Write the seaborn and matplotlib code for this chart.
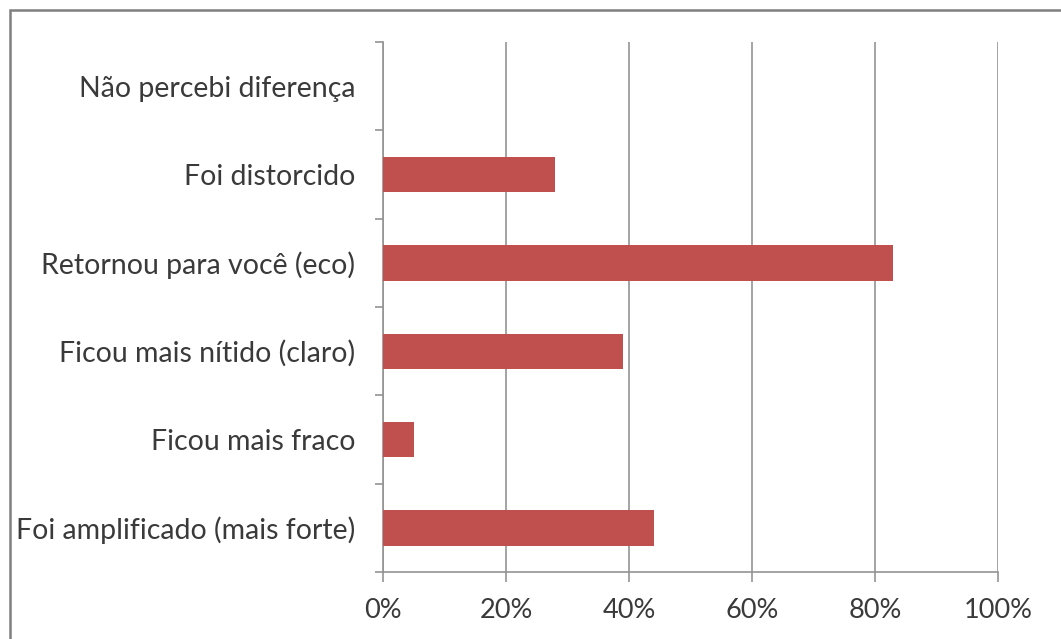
import matplotlib
matplotlib.use("Agg")
import matplotlib.pyplot as plt
from matplotlib.patches import Rectangle
from matplotlib.ticker import FixedLocator, PercentFormatter
import seaborn as sns
import pandas as pd

categories = [
    "Não percebi diferença",
    "Foi distorcido",
    "Retornou para você (eco)",
    "Ficou mais nítido (claro)",
    "Ficou mais fraco",
    "Foi amplificado (mais forte)",
]
percentages = [0, 28, 83, 39, 5, 44]
x_ticks = [0, 20, 40, 60, 80, 100]

bar_color = "#C0504D"
grid_color = "#939393"
text_color = "#3A3A3A"

sns.set_style("white")
plt.rcParams["font.family"] = ["Lato", "DejaVu Sans"]

df = pd.DataFrame({"categoria": categories, "pct": percentages})

fig = plt.figure(figsize=(10.61, 6.39), dpi=100)
ax = fig.add_axes([383 / 1061, 1 - 572 / 639, (998 - 383) / 1061, (572 - 42) / 639])

sns.barplot(data=df, x="pct", y="categoria", color=bar_color, saturation=1,
            width=0.4, linewidth=0, ax=ax, zorder=3)

ax.set_xlim(0, 100)
ax.set_ylim(len(categories) - 0.5, -0.5)
ax.xaxis.set_major_locator(FixedLocator(x_ticks))
ax.xaxis.set_major_formatter(PercentFormatter(decimals=0))
ax.set_xlabel("")
ax.set_ylabel("")

# vertical gridlines behind the bars
ax.grid(axis="x", color=grid_color, linewidth=1.2, zorder=0)
ax.grid(axis="y", visible=False)
ax.set_axisbelow(True)

for side in ("top", "right"):
    ax.spines[side].set_visible(False)
for side in ("left", "bottom"):
    ax.spines[side].set_color(grid_color)
    ax.spines[side].set_linewidth(1.2)

# category labels without ticks; tick marks at category boundaries
ax.tick_params(axis="y", which="major", length=0, pad=20, labelsize=20.5,
               labelcolor=text_color)
ax.yaxis.set_minor_locator(FixedLocator([i - 0.5 for i in range(len(categories) + 1)]))
ax.tick_params(axis="y", which="minor", left=True, length=6, width=1.2, color=grid_color)
ax.tick_params(axis="x", which="major", bottom=True, length=7.5, width=1.2,
               color=grid_color, pad=11, labelsize=19.5, labelcolor=text_color)

# outer chart frame
fig.patches.append(Rectangle((9.5 / 1061, -0.2), 1.3, 1.2 - 9.5 / 639,
                             transform=fig.transFigure, fill=False,
                             edgecolor="#7F7F7F", linewidth=1.8))

fig.savefig("out.png", dpi=100)
